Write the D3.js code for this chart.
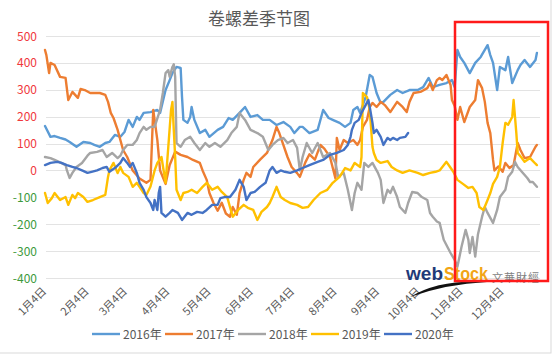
<!DOCTYPE html>
<html><head><meta charset="utf-8">
<script src="https://cdn.jsdelivr.net/npm/d3@7"></script>
<style>body{margin:0;background:#fff}svg{display:block}</style>
</head><body><svg id="c" width="554" height="356"></svg>
<script>
const chartTitle = "卷螺差季节图";
const yTicks = [500,400,300,200,100,0,-100,-200,-300,-400];
const tickDays = [4,35,63,94,124,155,185,216,247,277,308,338];
const tickLabels = ["1月4日","2月4日","3月4日","4月4日","5月4日","6月4日","7月4日","8月4日","9月4日","10月4日","11月4日","12月4日"];
const seriesNames = ["2016年","2017年","2018年","2019年","2020年"];
const seriesColors = ["#5B9BD5","#ED7D31","#A5A5A5","#FFC000","#4472C4"];

// [day of year, value]
const s2016 = [[4,165],[8,125],[11,128],[15,121],[19,115],[22,106],[27,88],[32,106],[37,102],[40,95],[44,88],[48,102],[51,106],[55,132],[59,125],[62,143],[65,188],[68,162],[71,199],[73,188],[76,214],[81,217],[86,225],[88,214],[92,299],[95,336],[97,362],[100,385],[103,381],[104,273],[105,188],[108,177],[110,199],[111,236],[113,188],[117,139],[121,151],[124,125],[130,151],[134,162],[138,195],[141,188],[146,214],[150,236],[154,199],[159,206],[163,188],[168,188],[173,169],[178,180],[183,162],[186,139],[190,162],[192,162],[197,139],[203,151],[207,225],[211,195],[214,188],[219,177],[223,162],[227,177],[229,225],[232,236],[234,214],[238,273],[241,355],[243,348],[246,288],[249,251],[251,255],[256,281],[261,299],[265,288],[270,299],[276,299],[280,310],[284,344],[287,310],[292,318],[297,325],[301,336],[303,310],[305,448],[307,422],[310,400],[314,362],[318,400],[322,422],[327,466],[329,429],[331,400],[334,299],[336,385],[340,373],[342,422],[345,325],[349,373],[351,392],[354,411],[358,385],[362,411],[363,437]];
const s2017 = [[4,448],[5,429],[7,362],[8,400],[11,392],[15,348],[19,344],[21,262],[24,292],[26,281],[28,270],[30,303],[33,299],[37,288],[44,288],[48,281],[50,255],[52,214],[54,195],[57,151],[59,113],[61,76],[64,50],[68,0],[73,-30],[78,-46],[81,-35],[83,225],[86,113],[88,0],[92,-50],[95,20],[99,70],[103,58],[108,50],[112,39],[117,28],[119,0],[122,-35],[124,-84],[127,-121],[130,-150],[133,-120],[136,-160],[139,-172],[141,-136],[144,-165],[146,-84],[149,-35],[151,-9],[154,-24],[156,13],[161,40],[166,65],[170,113],[173,162],[175,139],[181,50],[184,13],[188,-10],[190,-24],[194,30],[197,60],[201,40],[205,95],[208,80],[212,50],[216,-30],[217,121],[219,76],[222,113],[225,102],[229,113],[232,95],[234,113],[236,162],[239,188],[241,236],[243,251],[246,236],[249,255],[252,243],[256,217],[261,255],[265,236],[268,217],[270,255],[273,288],[278,292],[283,306],[285,325],[287,299],[290,336],[292,344],[294,336],[297,355],[300,318],[301,262],[303,240],[305,188],[307,236],[310,180],[314,236],[318,262],[320,336],[323,306],[325,255],[327,177],[329,139],[331,39],[332,0],[335,15],[338,-5],[340,28],[343,9],[346,20],[349,102],[351,76],[354,46],[358,50],[362,88],[363,95]];
const s2018 = [[4,50],[8,46],[11,39],[15,30],[19,20],[20,0],[22,-28],[24,-9],[27,13],[31,28],[35,55],[37,65],[42,69],[46,76],[49,50],[53,65],[57,46],[59,55],[61,76],[64,95],[68,95],[71,113],[73,139],[76,162],[78,151],[81,162],[84,162],[88,225],[90,288],[92,362],[94,373],[95,348],[97,385],[98,395],[99,348],[100,102],[103,88],[106,113],[110,125],[113,102],[117,76],[121,102],[124,88],[128,102],[132,88],[137,113],[140,139],[144,162],[146,214],[150,188],[154,151],[159,139],[163,125],[167,76],[170,95],[174,113],[178,121],[181,102],[185,113],[188,84],[190,0],[192,50],[195,102],[199,65],[203,102],[207,50],[212,65],[216,28],[218,-24],[222,-9],[225,-72],[228,-147],[230,-84],[232,-46],[235,-72],[237,28],[240,13],[243,28],[247,-9],[249,-35],[251,-121],[254,-72],[256,-84],[258,-61],[261,-99],[263,-136],[267,-158],[269,-121],[272,-80],[276,-84],[279,-99],[283,-110],[285,-158],[287,-172],[290,-190],[292,-195],[295,-258],[300,-307],[303,-333],[305,-358],[308,-284],[311,-221],[313,-258],[314,-307],[316,-247],[318,-320],[320,-237],[323,-172],[325,-136],[327,-158],[331,-195],[334,-147],[336,-99],[340,-72],[342,-24],[345,-5],[347,32],[349,13],[352,-5],[356,-28],[358,-43],[360,-43],[363,-61]];
const s2019 = [[4,-84],[6,-121],[9,-103],[11,-84],[15,-110],[19,-99],[21,-128],[24,-91],[26,-103],[28,-84],[32,-99],[35,-117],[39,-110],[44,-99],[48,-91],[50,-24],[51,0],[54,28],[57,-10],[59,13],[61,-9],[65,-24],[68,-61],[71,-46],[73,-61],[76,-84],[78,-91],[81,-60],[84,0],[86,28],[89,50],[92,-46],[94,88],[96,225],[97,255],[98,151],[99,50],[100,-72],[103,-110],[105,-84],[108,-80],[111,-72],[115,-84],[119,-61],[122,-46],[126,-72],[130,-61],[133,-80],[137,-99],[139,-136],[141,-172],[145,-147],[149,-128],[152,-139],[156,-147],[159,-184],[162,-154],[166,-136],[168,-121],[170,-99],[173,-61],[176,-99],[179,-110],[183,-121],[188,-128],[192,-139],[196,-136],[200,-110],[205,-84],[210,-72],[214,-46],[219,-24],[223,9],[227,0],[230,28],[234,13],[235,50],[236,288],[239,273],[241,225],[243,88],[244,65],[246,39],[249,28],[254,35],[257,13],[261,0],[265,-9],[270,0],[276,-9],[280,-17],[285,-9],[289,-5],[292,0],[297,32],[300,10],[302,-5],[305,-35],[309,-50],[313,-65],[316,-61],[319,-84],[321,-136],[324,-147],[327,-110],[329,-84],[331,-50],[334,-24],[336,13],[338,102],[340,177],[342,170],[345,199],[346,262],[348,139],[349,65],[352,46],[354,32],[358,46],[362,25],[363,20]];
const s2020 = [[4,20],[8,28],[13,32],[16,28],[20,20],[24,13],[27,9],[31,0],[35,-9],[38,-5],[42,0],[46,9],[49,13],[51,-5],[55,9],[59,28],[61,46],[64,28],[66,13],[68,28],[71,-9],[73,-46],[76,-72],[78,-99],[81,-121],[83,-147],[84,-110],[86,-147],[87,-84],[88,-61],[89,-158],[92,-172],[95,-158],[97,-147],[101,-158],[104,-184],[108,-158],[111,-165],[115,-154],[119,-158],[122,-147],[126,-128],[130,-128],[132,-103],[135,-99],[139,-99],[143,-72],[146,-35],[149,-61],[151,-110],[154,-84],[157,-80],[161,-61],[165,-46],[168,0],[170,13],[173,-9],[176,0],[179,-5],[183,-9],[188,0],[192,9],[197,20],[203,32],[207,39],[212,58],[217,65],[222,76],[225,95],[227,125],[228,151],[230,177],[233,188],[235,214],[238,243],[240,262],[241,236],[243,177],[244,139],[246,151],[249,125],[251,95],[254,121],[256,113],[258,121],[261,113],[263,121],[267,125],[269,139]];
const allSeries = [s2016, s2017, s2018, s2019, s2020];

const FONT = "'Noto Sans CJK SC','Microsoft YaHei',sans-serif";
const svg = d3.select("#c");
const x = d3.scaleLinear().domain([4,366]).range([45,541]);
const y = d3.scaleLinear().domain([-400,500]).range([278,36]);

// outer border (right/bottom visible)
svg.append("rect").attr("x",-1).attr("y",-1).attr("width",552).attr("height",354)
  .attr("fill","none").attr("stroke","#D9D9D9");

// title
svg.append("text").attr("x",259).attr("y",25).attr("text-anchor","middle")
  .attr("font-family",FONT).attr("font-size",17).attr("fill","#595959").text(chartTitle);

// grid
svg.append("g").selectAll("line").data(yTicks).join("line")
  .attr("x1",46).attr("x2",540).attr("y1",d=>Math.round(y(d))+0.5).attr("y2",d=>Math.round(y(d))+0.5)
  .attr("stroke","#E3E3E3").attr("stroke-width",1);

// y labels
svg.append("g").selectAll("text").data(yTicks).join("text")
  .attr("x",37).attr("y",d=>y(d)+4.5).attr("text-anchor","end")
  .attr("font-family",FONT).attr("font-size",12)
  .attr("fill",d=>d>=0?"#F0383C":"#3C9A3C").text(d=>d);

// x labels
svg.append("g").selectAll("text").data(tickDays).join("text")
  .attr("text-anchor","end")
  .attr("transform",d=>`translate(${x(d)+2},${292}) rotate(-45)`)
  .attr("font-family",FONT).attr("font-size",11).attr("fill","#595959")
  .text((d,i)=>tickLabels[i]);

// lines
const line = d3.line().x(d=>x(d[0])).y(d=>y(d[1]));
svg.append("g").selectAll("path").data(allSeries).join("path")
  .attr("d",line).attr("fill","none")
  .attr("stroke",(d,i)=>seriesColors[i]).attr("stroke-width",2.4)
  .attr("stroke-linejoin","round").attr("stroke-linecap","round");

// watermark
const wm = svg.append("g");
wm.append("path").attr("d","M410,297 Q440,279 487,282 Q446,284 410,297 Z").attr("fill","#111");
wm.append("text").attr("x",406).attr("y",280).attr("font-family","'Liberation Sans',Arial,sans-serif")
  .attr("font-weight","bold").attr("font-size",19).attr("fill","#1F3A78")
  .attr("textLength",37).attr("lengthAdjust","spacingAndGlyphs").text("web");
wm.append("text").attr("x",444).attr("y",280).attr("font-family","'Liberation Sans',Arial,sans-serif")
  .attr("font-weight","bold").attr("font-size",19).attr("fill","#F2A516")
  .attr("textLength",44).attr("lengthAdjust","spacingAndGlyphs").text("Stock");
wm.append("text").attr("x",492).attr("y",282).attr("font-family",FONT).attr("font-size",11)
  .attr("fill","#7F7F7F").attr("textLength",47).text("文華財經");

// red highlight box
svg.append("rect").attr("x",455).attr("y",22).attr("width",93).attr("height",259)
  .attr("fill","none").attr("stroke","#FF1A1A").attr("stroke-width",2.5);

// legend
const lg = svg.append("g").selectAll("g").data(seriesNames).join("g")
  .attr("transform",(d,i)=>`translate(${92+i*73},334)`);
lg.append("line").attr("x1",0).attr("x2",28).attr("stroke",(d,i)=>seriesColors[i]).attr("stroke-width",2.4);
lg.append("text").attr("x",31).attr("y",4.5).attr("font-family",FONT).attr("font-size",12)
  .attr("fill","#595959").text(d=>d);
</script></body></html>
